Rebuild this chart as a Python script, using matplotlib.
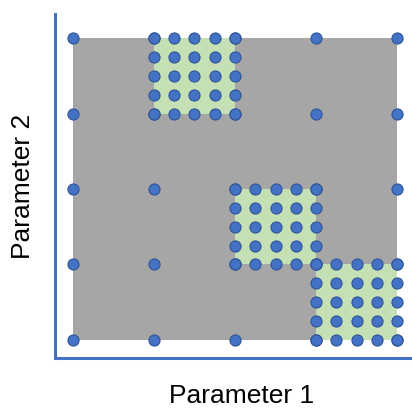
import matplotlib
matplotlib.use("Agg")
import matplotlib.pyplot as plt
from matplotlib.patches import Rectangle

# coarse sampling grid (both parameters)
coarse_levels = [0, 1, 2, 3, 4]
# refined regions: lower-left corner of each green cell
refined_cells = [(1, 3), (2, 1), (3, 0)]
# fine offsets inside one refined cell
fine_offsets = [0, 0.25, 0.5, 0.75, 1.0]

point_color = "#4472C4"
edge_color = "#2F5597"

fig = plt.figure(figsize=(4.12, 4.08), dpi=100)
ax = fig.add_axes([0.1335, 0.1225, 0.862, 0.843])

ax.add_patch(Rectangle((0, 0), 4, 4, facecolor="#A6A6A6", edgecolor="none", zorder=1))
for cx, cy in refined_cells:
    ax.add_patch(Rectangle((cx, cy), 1, 1, facecolor="#C5E0B4", edgecolor="none", zorder=2))

xs, ys = [], []
for x in coarse_levels:
    for y in coarse_levels:
        xs.append(x)
        ys.append(y)
for cx, cy in refined_cells:
    for dx in fine_offsets:
        for dy in fine_offsets:
            xs.append(cx + dx)
            ys.append(cy + dy)

ax.plot(xs, ys, "o", color=point_color, markeredgecolor=edge_color,
        markeredgewidth=0.8, markersize=8, zorder=3, clip_on=False)

ax.set_xlim(-0.22, 4.16)
ax.set_ylim(-0.24, 4.32)
ax.set_xticks([])
ax.set_yticks([])
for s in ["top", "right"]:
    ax.spines[s].set_visible(False)
for s in ["left", "bottom"]:
    ax.spines[s].set_color(point_color)
    ax.spines[s].set_linewidth(2.2)

fig.text(0.587, 0.012, "Parameter 1", ha="center", va="baseline",
         fontsize=19, family="Liberation Sans")
fig.text(0.055, 0.542, "Parameter 2", ha="center", va="center", rotation=90,
         fontsize=19, family="Liberation Sans")

fig.savefig("out.png", dpi=100)
